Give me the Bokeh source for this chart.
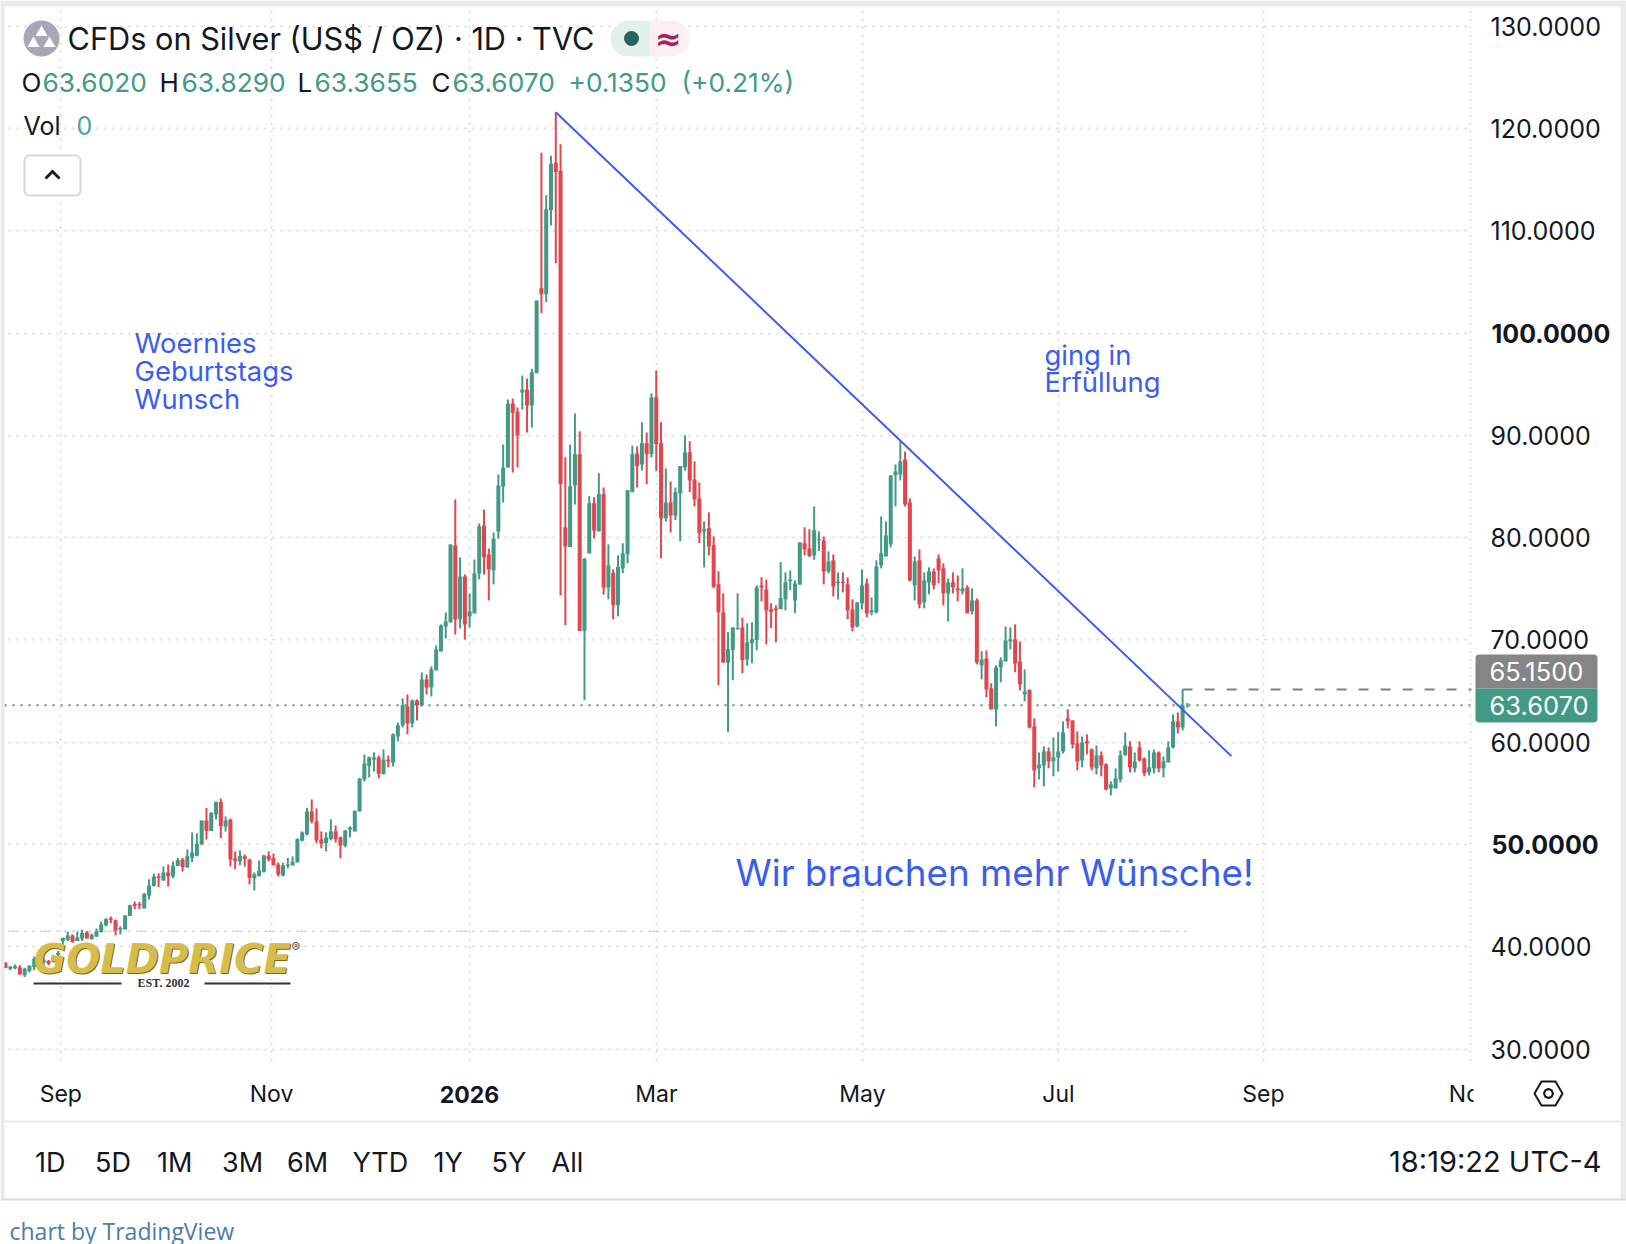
from bokeh.plotting import figure
from bokeh.models import (ColumnDataSource, FixedTicker, Label, BoxAnnotation, PolyAnnotation,
                          LinearAxis, Range1d, Grid)
from bokeh.embed import file_html
from bokeh.resources import INLINE

# ---------- data ----------
opens = [38.44,37.86,37.9,38.0,37.21,37.63,38.02,39.0,38.5,38.6,
 38.7,39.2,40.56,40.7,41.1,40.56,40.8,41.4,40.76,41.0,
 41.44,42.1,42.8,42.6,41.7,41.7,43.0,44.15,44.18,43.75,
 45.02,45.94,46.88,46.49,47.27,46.88,47.9,48.54,47.76,48.7,
 48.9,50.0,52.35,51.31,52.94,54.18,51.77,52.42,48.64,48.35,
 48.84,48.51,46.69,46.91,47.34,48.9,48.67,48.05,46.98,47.92,
 47.96,48.25,50.37,50.99,53.23,52.26,50.5,50.14,50.53,51.28,
 50.69,49.91,51.47,51.28,53.23,56.36,57.7,58.3,58.51,56.88,
 58.3,58.02,60.56,61.64,63.5,61.84,64.08,63.6,66.14,65.35,
 67.02,68.87,71.31,71.71,79.23,72.0,76.2,72.29,72.59,76.49,
 81.18,78.35,76.79,80.6,84.99,86.85,93.1,92.3,94.18,94.47,
 92.91,96.07,104.38,103.8,111.99,116.66,115.85,81.0,79.07,85.1,
 88.15,70.88,78.45,83.36,80.61,84.25,75.12,76.55,73.39,76.98,
 78.37,84.44,88.22,87.14,89.23,88.15,93.71,89.23,81.89,83.43,
 82.16,84.32,86.87,88.34,85.67,83.82,80.61,80.92,79.26,75.44,
 72.69,67.78,69.02,71.03,71.22,68.09,69.68,69.99,75.32,74.93,
 73.0,73.08,73.0,73.97,75.74,73.85,75.4,79.45,78.95,78.26,
 79.72,79.72,76.69,77.77,75.55,75.68,75.42,72.98,71.32,73.57,
 75.52,72.69,72.69,77.28,78.16,79.33,86.08,86.17,87.64,83.44,
 75.33,77.77,73.67,75.62,76.69,77.96,76.99,74.54,75.62,75.03,
 74.74,75.13,72.79,73.86,67.51,68.19,65.26,63.21,67.31,67.9,
 69.85,70.05,67.89,64.67,65.13,61.54,57.44,57.73,59.1,58.12,
 58.51,59.1,62.33,62.13,59.88,58.22,60.08,59.29,57.44,58.71,
 57.83,55.48,55.48,56.36,58.71,59.59,57.44,59.49,58.42,57.05,
 57.44,59.0,57.44,58.02,59.49,62.03,61.45,63.602]
highs = [38.5,38.12,38.28,38.2,37.96,38.2,39.06,39.2,38.9,38.7,
 39.2,39.6,40.9,41.5,41.2,41.44,41.67,41.54,41.3,41.8,
 42.48,42.78,42.97,42.68,42.0,43.1,44.1,44.44,44.37,45.25,
 46.6,47.17,47.2,47.86,48.05,48.35,48.7,48.67,49.52,51.18,
 51.1,52.35,53.56,53.17,54.2,54.5,52.74,52.55,49.32,49.42,
 49.03,48.6,47.27,48.44,48.97,49.32,49.13,48.25,48.22,48.7,
 48.84,50.6,51.28,53.59,54.4,53.53,51.28,51.18,52.45,51.86,
 50.79,51.38,51.77,53.3,56.52,58.8,58.6,59.0,58.7,59.29,
 58.7,60.86,61.93,64.28,64.67,64.18,64.18,66.82,66.62,67.41,
 69.46,71.51,72.68,79.33,83.73,78.06,76.4,74.54,77.86,81.38,
 82.75,78.94,80.5,86.17,89.1,93.5,93.6,92.72,95.84,95.55,
 96.5,103.18,117.63,113.46,117.32,121.57,118.44,87.84,89.11,92.13,
 90.39,78.02,84.05,83.94,86.29,84.9,79.34,76.9,78.26,79.45,
 84.63,88.98,88.92,91.28,90.27,94.1,96.34,91.28,86.76,85.48,
 84.9,86.99,90.0,89.42,87.45,85.4,81.58,82.47,80.11,76.71,
 74.55,70.76,71.22,74.55,72.19,71.61,71.73,75.32,76.13,75.9,
 73.58,73.39,77.6,76.6,76.79,75.82,79.53,81.0,80.81,83.05,
 80.61,80.11,78.65,78.36,76.6,76.6,76.11,73.96,73.67,76.89,
 76.0,74.15,77.77,82.07,81.58,86.08,87.15,89.4,88.42,83.83,
 78.16,78.84,76.6,77.09,76.99,78.36,77.48,76.0,76.6,76.3,
 76.99,75.33,75.03,74.06,68.88,68.97,65.75,67.51,68.29,71.32,
 71.22,71.52,69.85,67.11,65.13,62.33,59.0,59.59,59.49,60.47,
 60.96,62.03,63.2,62.13,61.05,60.57,60.76,59.39,59.69,59.1,
 57.93,56.17,57.44,59.2,60.96,60.08,59.0,60.08,58.51,59.2,
 59.29,59.1,58.61,60.08,62.72,62.91,65.15,63.829]
lows = [37.92,37.7,37.8,37.3,37.04,37.5,37.7,38.4,38.35,38.2,
 38.6,39.0,39.8,40.56,40.4,40.56,40.56,40.8,40.7,40.95,
 41.4,42.0,42.3,41.1,41.2,41.7,43.0,43.66,43.7,43.75,
 44.63,45.9,45.84,46.49,45.9,46.7,47.9,47.37,47.76,48.28,
 48.84,50.0,50.5,51.31,52.45,50.6,51.28,47.86,47.57,47.96,
 47.86,46.1,45.51,46.88,47.27,48.35,47.96,46.88,46.88,47.66,
 47.96,48.25,50.3,50.9,52.06,50.1,49.62,49.32,50.4,50.2,
 48.64,49.72,50.69,51.28,53.23,56.16,56.56,57.14,56.46,56.85,
 57.53,57.63,60.07,61.45,60.76,61.45,62.13,63.5,64.67,64.47,
 67.02,68.87,70.14,71.71,70.53,71.12,70.04,71.22,72.59,75.91,
 76.4,73.86,75.42,79.91,83.43,86.85,86.36,86.85,92.52,90.27,
 90.76,96.07,101.94,103.02,110.52,106.81,74.35,71.42,79.07,83.24,
 70.88,64.11,78.45,79.92,80.61,74.43,73.97,72.0,72.3,76.52,
 77.48,84.44,84.9,86.56,85.21,87.84,86.49,77.98,81.58,80.5,
 81.7,79.65,86.56,84.44,83.05,79.45,77.09,78.26,75.05,65.58,
 67.78,61.0,66.05,71.03,66.74,67.48,67.71,68.98,73.77,69.56,
 71.15,69.76,73.0,72.88,74.86,72.62,75.4,78.26,78.1,77.83,
 78.68,75.42,76.5,74.25,73.96,74.64,72.0,70.83,71.22,72.98,
 72.2,72.4,72.59,76.99,78.16,79.04,83.05,85.59,83.05,75.72,
 73.86,73.08,73.08,74.45,74.94,75.52,73.37,71.81,74.54,73.76,
 74.45,72.59,72.49,67.61,66.14,64.38,63.21,61.55,65.85,67.9,
 69.07,66.83,65.06,63.99,61.35,55.58,56.36,55.68,57.44,56.66,
 57.15,58.9,61.35,59.39,57.24,57.54,58.81,57.24,56.85,56.66,
 55.29,54.8,55.48,56.07,58.71,57.05,57.05,58.12,56.66,56.75,
 56.95,57.05,56.56,58.02,59.39,60.86,61.15,63.3655]
closes = [37.92,38.05,38.1,37.3,37.86,38.15,38.84,38.6,38.67,38.35,
 39.0,39.4,40.85,41.1,40.46,40.9,41.34,40.82,41.15,41.5,
 42.2,42.7,42.65,41.6,41.83,43.07,44.05,44.0,44.05,45.15,
 46.0,46.88,46.7,47.27,46.9,47.92,48.45,47.8,48.84,49.23,
 50.07,52.35,51.31,53.07,54.15,51.8,52.35,48.54,48.38,48.87,
 48.58,46.72,47.08,47.47,48.93,48.54,47.96,47.08,47.96,48.05,
 48.31,50.53,51.18,53.23,52.26,50.4,50.07,50.69,51.28,50.5,
 49.91,51.38,51.67,53.3,56.43,57.92,58.51,58.51,56.91,58.3,
 58.12,60.76,61.64,63.6,61.84,64.08,63.6,66.14,65.35,67.11,
 69.07,71.41,71.8,79.33,72.0,76.2,71.51,72.78,76.49,81.09,
 78.06,76.89,79.91,85.09,86.85,93.1,92.2,89.98,94.47,92.91,
 96.15,103.18,103.8,112.07,116.55,115.74,85.25,79.14,85.02,88.15,
 70.88,77.91,83.36,80.69,84.25,75.12,77.29,73.39,77.14,78.45,
 84.63,88.15,86.99,89.23,88.15,93.71,89.15,81.89,83.43,82.16,
 84.44,86.99,88.34,85.6,83.74,80.42,80.81,79.14,75.2,72.69,
 67.78,69.1,71.22,71.15,68.02,69.76,70.06,75.12,75.12,72.88,
 72.73,72.88,74.08,75.63,75.9,75.51,79.53,78.84,78.22,80.73,
 79.84,76.69,77.67,75.23,75.68,75.55,72.88,71.22,73.67,75.33,
 72.59,72.88,77.18,78.45,80.21,86.08,86.47,87.44,83.24,75.81,
 77.67,73.47,75.81,76.69,75.33,76.79,74.54,75.62,75.13,74.84,
 75.03,72.59,73.86,67.8,68.09,65.16,63.21,67.31,68.0,69.95,
 70.05,67.7,65.65,64.96,61.45,57.24,57.83,59.1,58.12,58.51,
 59.1,60.96,62.03,59.78,58.12,59.98,59.88,57.54,58.71,57.73,
 55.39,55.88,56.46,58.71,59.69,57.54,58.12,58.22,56.95,57.54,
 59.0,57.44,58.12,59.49,62.03,61.45,63.6,63.607]

price_ticks = [30,40,50,60,70,80,90,100,110,120,130]
bold_prices = [50,100]
month_labels = ["Sep","Nov","2026","Mar","May","Jul","Sep","Nov"]
month_bars = [11.56,55.6,97.0,136.05,179.1,220.06,262.9,306.2]
trend_bars = [115.0,256.2]
trend_prices = [121.57,58.64]
last_price = 63.607
last_high = 65.15
prev_line = 41.53

GREEN = "#429a85"; RED = "#e2454d"; BLUE = "#3a5df0"; INK = "#131722"; STRIP = "#ebebeb"
FONT = "Inter"

# pixel <-> data helpers for the layout
STEP = 4.785
def xd(px): return (px - 5.0) / STEP
def yd(py): return 60.0 - (py - 741.7) / 10.23

W, H = 1626, 1244
FL, FR, FT, FB = 4, 1471, 6, 1064
p = figure(width=W, height=H, output_backend="svg", toolbar_location=None,
           x_range=Range1d(xd(0), xd(W)), y_range=Range1d(yd(H), yd(0)),
           x_axis_location=None, y_axis_location=None,
           min_border=0,
           background_fill_color="white", border_fill_color="white", outline_line_color=None)

yaxis = LinearAxis(ticker=FixedTicker(ticks=price_ticks), fixed_location=xd(FR),
                   major_label_overrides={t: ("" if t in bold_prices else f"{t:.4f}") for t in price_ticks},
                   axis_line_color=None, major_tick_line_color=None, minor_tick_line_color=None,
                   major_label_text_font=FONT, major_label_text_font_size="25px",
                   major_label_text_color=INK, major_label_standoff=13)
p.add_layout(yaxis, "right")
xaxis = LinearAxis(ticker=FixedTicker(ticks=month_bars), fixed_location=yd(FB),
                   major_label_overrides={t: ("" if l == "2026" else l) for t, l in zip(month_bars, month_labels)},
                   axis_line_color=None, major_tick_line_color=None, minor_tick_line_color=None,
                   major_label_text_font=FONT, major_label_text_font_size="23px",
                   major_label_text_color=INK, major_label_standoff=9)
p.add_layout(xaxis, "below")

# ---------- helpers for page furniture ----------
def lbl(text, px, py, size, color=INK, font=FONT, style="normal", align="left", base="middle"):
    p.add_layout(Label(x=xd(px), y=yd(py), text=text, text_font=font, text_font_style=style,
                       text_font_size=f"{size}px", text_color=color, text_align=align, text_baseline=base))
def box(x0, x1, y0, y1, color, line=None, lw=1, radius=0, level="annotation"):
    p.add_layout(BoxAnnotation(left=xd(x0), right=xd(x1), top=yd(y0), bottom=yd(y1), fill_color=color,
                               fill_alpha=1 if color else 0, line_color=line, line_width=lw, line_alpha=1,
                               border_radius=radius, level=level, editable=False))
def poly(pts, fill, line=None, lw=1):
    p.add_layout(PolyAnnotation(xs=[xd(a) for a, _ in pts], ys=[yd(b) for _, b in pts], fill_color=fill,
                                fill_alpha=1, line_color=line, line_width=lw, line_alpha=1, level="annotation"))

p.xgrid.visible = False; p.ygrid.visible = False
p.add_layout(Grid(dimension=0, ticker=FixedTicker(ticks=month_bars), grid_line_color="#d9d9d9",
                  grid_line_dash="2 6", grid_line_width=2))
p.add_layout(Grid(dimension=1, ticker=FixedTicker(ticks=price_ticks), grid_line_color="#d9d9d9",
                  grid_line_dash="2 6", grid_line_width=2))
# grid lines stop at the edges of the pane
box(FR, W, 0, H, "white", level="underlay")
box(0, W, FB, H, "white", level="underlay")

# thin dotted reference line behind the candles
p.line([xd(8), xd(1190)], [prev_line, prev_line], line_color="#9ad4cd", line_width=1.5, line_dash="2 6")
p.line([xd(12), xd(1190)], [prev_line, prev_line], line_color="#f0a8a8", line_width=1.5, line_dash="2 30")

# last price dotted line and previous-high dashed line
p.line([xd(FL), xd(FR)], [last_price, last_price], line_color=GREEN, line_width=2, line_dash="2 6")
p.line([246, xd(FR)], [last_high, last_high], line_color="#808080", line_width=2, line_dash="10 12")

src = ColumnDataSource(dict(
    x=list(range(len(opens))), high=highs, low=lows,
    top=[max(o, c) for o, c in zip(opens, closes)],
    bottom=[min(o, c) for o, c in zip(opens, closes)],
    color=[GREEN if c >= o else RED for o, c in zip(opens, closes)]))
p.segment("x", "high", "x", "low", source=src, line_color="color", line_width=2)
p.vbar("x", 0.84, "top", "bottom", source=src, fill_color="color", line_color=None)

# trend line
p.line(trend_bars, trend_prices, line_color=BLUE, line_width=2)

# strips around the widget
box(0, 4, 0, 1199, STRIP)
box(0, W, 0, 6, STRIP)
box(1620, W, 0, 1199, STRIP)
box(4, 1620, 1120, 1122, STRIP)
box(0, W, 1198, 1200, "#dcdcdc")
box(1473, 1492, 1078, 1110, "white")   # time axis is cut off at the price scale

# bold tick labels
for v in bold_prices:
    lbl(f"{v:.4f}", 1491, 741.7 - (v - 60) * 10.23, 25, style="bold")
lbl("2026", 469, 1094, 23, style="bold", align="center")

# header
p.scatter([xd(41)], [yd(38)], size=36, marker="circle", fill_color="#a9a7b5", line_color=None)
p.scatter([xd(41), xd(33), xd(49)], [yd(32), yd(43), yd(43)], size=12, marker="triangle", fill_color="white", line_color=None)
lbl("CFDs on Silver (US$ / OZ) · 1D · TVC", 67, 38, 30.7)
box(610, 650, 20, 56, "#e4f0ec", radius=(18, 0, 0, 18))
box(650, 689, 20, 56, "#fbeff3", radius=(0, 18, 18, 0))
p.scatter([xd(631)], [yd(38)], size=15, marker="circle", fill_color="#26655a", line_color=None, level="overlay")
lbl("≈", 668, 38, 32, color="#a8225a", style="bold", align="center", font="DejaVu Sans")
for ch, cx, val, vx in [("O", 21, "63.6020", 42), ("H", 159, "63.8290", 181), ("L", 297, "63.3655", 314), ("C", 431, "63.6070", 452)]:
    lbl(ch, cx, 82, 26)
    lbl(val, vx, 82, 26.3, color=GREEN)
lbl("+0.1350", 568, 82, 26.3, color=GREEN)
lbl("(+0.21%)", 681, 82, 26.3, color=GREEN)
lbl("Vol", 23, 125, 25)
lbl("0", 76, 125, 25, color="#4aa598")
box(24, 80, 155, 195, "white", line="#d8d8d8", lw=2, radius=5)
poly([(44, 177), (52, 169), (60, 177), (58, 179), (52, 173), (46, 179)], INK)

# price badges
box(1475, 1597, 654, 688, "#858585", radius=(4, 4, 0, 0))
box(1475, 1597, 688, 722, GREEN, radius=(0, 0, 4, 4))
lbl("65.1500", 1489, 671, 25.5, color="white")
lbl("63.6070", 1489, 705, 25.5, color="white")

# annotations in the chart
for t, py in zip(["Woernies", "Geburtstags", "Wunsch"], [342, 370, 398]):
    lbl(t, 134, py, 27.4, color=BLUE)
for t, py in zip(["ging in", "Erfüllung"], [354, 381]):
    lbl(t, 1044, py, 27.4, color=BLUE)
lbl("Wir brauchen mehr Wünsche!", 735, 872, 36.8, color=BLUE)

# logo
lbl("GOLDPRICE", 34, 959, 40, color="#7a6a1c", font="DejaVu Sans", style="bold italic")
lbl("GOLDPRICE", 33, 958, 40, color="#d6bd4b", font="DejaVu Sans", style="bold italic")
lbl("®", 291, 946, 13, color="#555555", align="left")
lbl("EST. 2002", 163, 982, 12, color="#333333", font="Liberation Serif", style="bold", align="center")
box(33, 121, 982, 984, "#333333")
box(204, 290, 982, 984, "#333333")

# settings icon in the corner of the scales
hexa = [(1534, 1093), (1541, 1081), (1555, 1081), (1562, 1093), (1555, 1105), (1541, 1105)]
poly(hexa, "white", line=INK, lw=2)
circ = [(1552.5, 1093), (1551.2, 1096.2), (1548, 1097.5), (1544.8, 1096.2), (1543.5, 1093), (1544.8, 1089.8), (1548, 1088.5), (1551.2, 1089.8)]
poly(circ, "white", line=INK, lw=2)

# range bar
for t, px in [("1D", 34.5), ("5D", 94.5), ("1M", 156.5), ("3M", 221.5), ("6M", 286.5), ("YTD", 352), ("1Y", 433), ("5Y", 491), ("All", 551)]:
    lbl(t, px, 1162, 27)
lbl("18:19:22 UTC-4", 1601, 1161, 29, align="right")
lbl("chart by TradingView", 9, 1230, 23, color="#4a7da8", font="Open Sans")

open("out.html", "w").write(file_html(p, INLINE))
